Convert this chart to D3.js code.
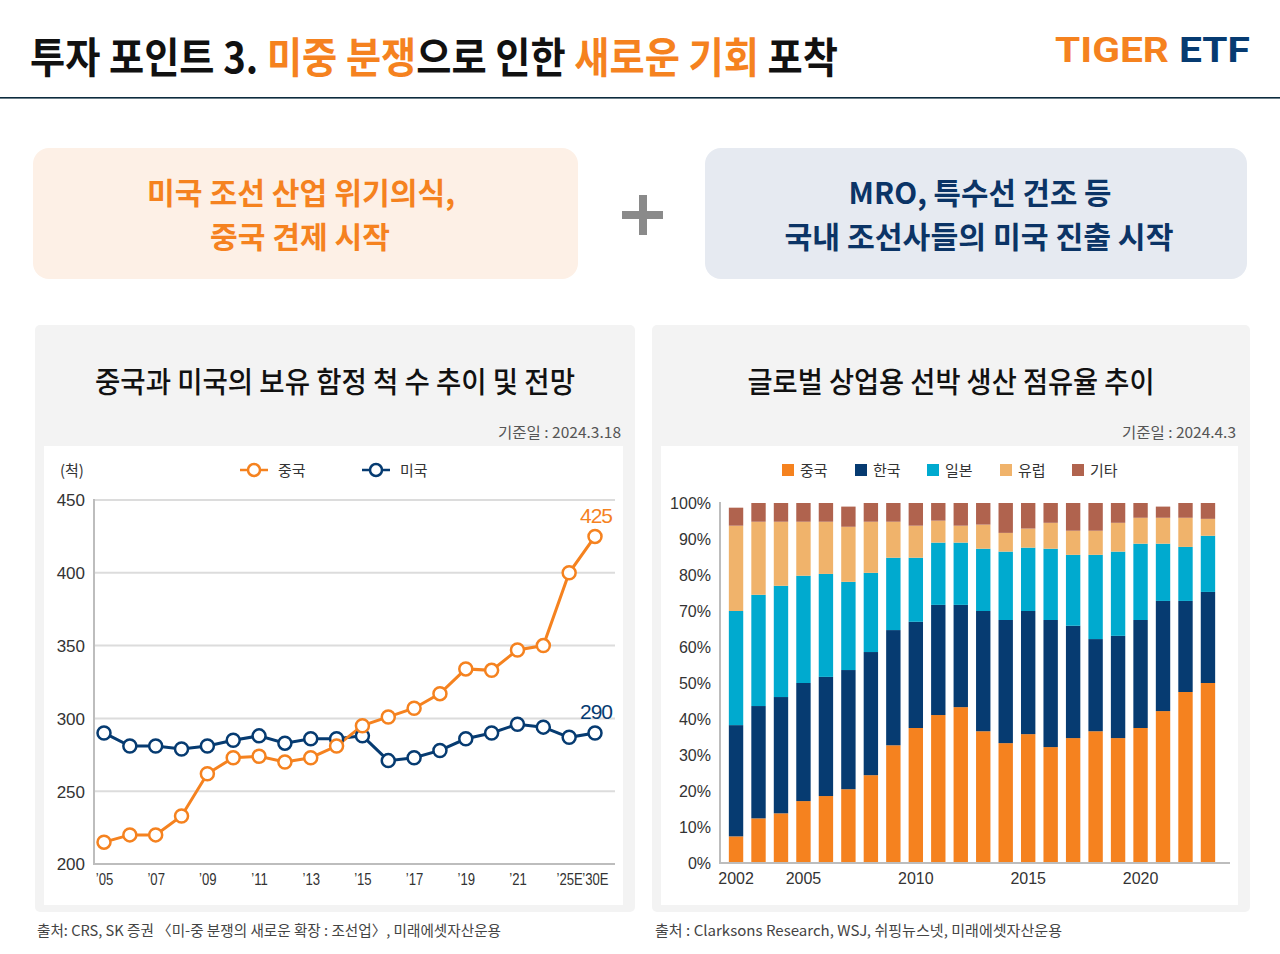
<!DOCTYPE html>
<html><head><meta charset="utf-8">
<script src="https://cdn.jsdelivr.net/npm/d3@7"></script>
<style>
html,body{margin:0;padding:0;background:#fff;}
svg{display:block;}
text{font-family:"Noto Sans CJK KR","Noto Sans",sans-serif;}
.num{font-family:"Liberation Sans",Arial,"Noto Sans CJK KR",sans-serif;}
</style></head>
<body>
<svg id="c" width="1280" height="954"></svg>
<script>
// ---------- data ----------
const lineYears = ["’05","’06","’07","’08","’09","’10","’11","’12","’13","’14","’15","’16","’17","’18","’19","’20","’21","’22","’25E","’30E"];
const lineTickLabels = ["’05","’07","’09","’11","’13","’15","’17","’19","’21","’25E","’30E"];
const chinaShips = [215,220,220,233,262,273,274,270,273,281,295,301,307,317,334,333,347,350,400,425];
const usShips    = [290,281,281,279,281,285,288,283,286,286,288,271,273,278,286,290,296,294,287,290];
const lineYTicks = [200,250,300,350,400,450];

const barYears = [2002,2003,2004,2005,2006,2007,2008,2009,2010,2011,2012,2013,2014,2015,2016,2017,2018,2019,2020,2021,2022,2023];
const barTickLabels = [2002,2005,2010,2015,2020];
const shareChina  = [7.4,12.4,13.8,17.2,18.6,20.5,24.4,32.7,37.5,41.1,43.3,36.6,33.3,35.8,32.2,34.7,36.6,34.7,37.5,42.2,47.5,50.0];
const shareKorea  = [30.9,31.2,32.3,32.8,33.1,33.1,34.2,32.0,29.5,30.6,28.4,33.4,34.2,34.2,35.3,31.2,25.6,28.4,30.0,30.6,25.3,25.3];
const shareJapan  = [31.7,30.9,30.9,29.8,28.6,24.5,22.0,20.1,17.8,17.3,17.3,17.3,19.0,17.6,19.8,19.7,23.4,23.4,21.2,15.9,15.0,15.6];
const shareEurope = [23.7,20.3,17.8,15.0,14.5,15.3,14.2,10.0,8.9,6.1,4.7,6.7,5.2,5.3,7.2,6.7,6.7,8.0,7.2,7.2,8.1,4.7];
const shareOther  = [5.0,5.2,5.2,5.2,5.2,5.6,5.2,5.2,6.3,4.9,6.3,6.0,8.3,7.1,5.5,7.7,7.7,5.5,4.1,3.1,4.1,4.4];
const barSeriesNames = ["중국","한국","일본","유럽","기타"];
const barYTicks = [0,10,20,30,40,50,60,70,80,90,100];

// ---------- style ----------
const ORANGE = "#f5821f", NAVY = "#063b71", CYAN = "#00aacf", LORANGE = "#f0b36b", BROWN = "#b0634e";
const barColors = [ORANGE, NAVY, CYAN, LORANGE, BROWN];

const svg = d3.select("#c");
function fit(sel, w){ sel.attr("textLength", w).attr("lengthAdjust","spacingAndGlyphs"); return sel; }
// horizontally scale a (multi-tspan) text so it spans width w starting at x
function squeeze(sel, x, y, w){
  sel.attr("x",0).attr("y",0);
  const nat = sel.node().getComputedTextLength();
  sel.attr("transform",`translate(${x},${y}) scale(${w/nat},1)`);
  return sel;
}

// ---------- header ----------
const title = svg.append("text").attr("font-size",42).attr("font-weight",700).attr("fill","#111");
title.append("tspan").text("투자 포인트 3. ");
title.append("tspan").attr("fill",ORANGE).text("미중 분쟁");
title.append("tspan").text("으로 인한 ");
title.append("tspan").attr("fill",ORANGE).text("새로운 기회");
title.append("tspan").text(" 포착");
squeeze(title, 30, 73, 808);

const logo = svg.append("text").attr("font-size",36).attr("font-weight",700)
  .style("font-family","Roboto, 'Liberation Sans', sans-serif");
logo.append("tspan").attr("fill",ORANGE).text("TIGER ");
logo.append("tspan").attr("fill",NAVY).text("ETF");
squeeze(logo, 1055, 62, 195);

svg.append("rect").attr("x",0).attr("y",97).attr("width",1280).attr("height",1.6).attr("fill","#0d2b3e");

// ---------- callouts ----------
svg.append("rect").attr("x",33).attr("y",148).attr("width",545).attr("height",131).attr("rx",16).attr("fill","#fdf0e6");
fit(svg.append("text").attr("x",301).attr("y",204).attr("text-anchor","middle").attr("font-size",30).attr("font-weight",700).attr("fill",ORANGE).text("미국 조선 산업 위기의식,"),308);
fit(svg.append("text").attr("x",300).attr("y",248).attr("text-anchor","middle").attr("font-size",30).attr("font-weight",700).attr("fill",ORANGE).text("중국 견제 시작"),180);

svg.append("rect").attr("x",622).attr("y",211).attr("width",41).attr("height",8).attr("fill","#8a8a8a");
svg.append("rect").attr("x",639).attr("y",195).attr("width",8).attr("height",40).attr("fill","#8a8a8a");

svg.append("rect").attr("x",705).attr("y",148).attr("width",542).attr("height",131).attr("rx",16).attr("fill","#e6eaf1");
fit(svg.append("text").attr("x",980).attr("y",204).attr("text-anchor","middle").attr("font-size",30).attr("font-weight",700).attr("fill","#0b3466").text("MRO, 특수선 건조 등"),263);
fit(svg.append("text").attr("x",979).attr("y",248).attr("text-anchor","middle").attr("font-size",30).attr("font-weight",700).attr("fill","#0b3466").text("국내 조선사들의 미국 진출 시작"),389);

// ---------- panels ----------
function panel(x, w, titleText, titleW, dateText, dateW){
  svg.append("rect").attr("x",x).attr("y",325).attr("width",w).attr("height",587).attr("rx",5).attr("fill","#f3f3f3");
  svg.append("rect").attr("x",x+9).attr("y",446).attr("width",w-21).attr("height",459).attr("fill","#fff");
  fit(svg.append("text").attr("x",x + w/2).attr("y",393).attr("text-anchor","middle").attr("font-size",29).attr("font-weight",500).attr("fill","#111").text(titleText), titleW);
  fit(svg.append("text").attr("x",x + w - 14 - dateW).attr("y",438).attr("font-size",15).attr("fill","#555").text(dateText), dateW);
}
panel(35, 600, "중국과 미국의 보유 함정 척 수 추이 및 전망", 480, "기준일 : 2024.3.18", 123);
panel(652, 598, "글로벌 상업용 선박 생산 점유율 추이", 407, "기준일 : 2024.4.3", 114);

// ---------- line chart ----------
const xL = d3.scalePoint().domain(lineYears).range([104, 595]);
const yL = d3.scaleLinear().domain([200, 450]).range([864, 500]);

const gL = svg.append("g");
gL.selectAll("line.grid").data(lineYTicks.slice(1)).join("line")
  .attr("x1",94).attr("x2",615).attr("y1",d=>yL(d)).attr("y2",d=>yL(d))
  .attr("stroke","#dcdcdc").attr("stroke-width",2);
gL.append("line").attr("x1",94).attr("x2",94).attr("y1",499).attr("y2",865).attr("stroke","#bdbdbd").attr("stroke-width",2);
gL.append("line").attr("x1",93).attr("x2",615).attr("y1",864).attr("y2",864).attr("stroke","#bdbdbd").attr("stroke-width",2);

const axL = d3.axisLeft(yL).tickValues(lineYTicks).tickSize(0).tickPadding(9);
const axLg = gL.append("g").attr("transform","translate(94,0)").call(axL);
axLg.select(".domain").remove();
axLg.selectAll("text").attr("class","num").attr("font-size",17).attr("fill","#333").attr("dy","0.35em");

const axB = d3.axisBottom(xL).tickValues(lineTickLabels).tickSize(0).tickPadding(10);
const axBg = gL.append("g").attr("transform","translate(0,864)").call(axB);
axBg.select(".domain").remove();
axBg.selectAll("text").attr("class","num").attr("font-size",16).attr("fill","#333")
  .attr("transform","scale(0.82,1)");

const lineGen = d3.line().x((d,i)=>xL(lineYears[i])).y(d=>yL(d));
[[usShips, NAVY],[chinaShips, ORANGE]].forEach(([arr,col])=>{
  gL.append("path").datum(arr).attr("d",lineGen).attr("fill","none").attr("stroke",col).attr("stroke-width",3);
});
[[usShips, NAVY],[chinaShips, ORANGE]].forEach(([arr,col])=>{
  gL.selectAll(null).data(arr).join("circle")
    .attr("cx",(d,i)=>xL(lineYears[i])).attr("cy",d=>yL(d)).attr("r",6.5)
    .attr("fill","#fff").attr("stroke",col).attr("stroke-width",2.5);
});
gL.append("text").attr("class","num").attr("x",xL("’30E")+1).attr("y",yL(chinaShips[19])-13).attr("text-anchor","middle")
  .attr("font-size",21).attr("fill",ORANGE).attr("letter-spacing",-1).text(chinaShips[19]);
gL.append("text").attr("class","num").attr("x",xL("’30E")+1).attr("y",yL(usShips[19])-14).attr("text-anchor","middle")
  .attr("font-size",21).attr("fill",NAVY).attr("letter-spacing",-1).text(usShips[19]);

// legend / unit
svg.append("text").attr("x",60).attr("y",476).attr("font-size",15).attr("fill","#333").text("(척)");
[[240,ORANGE,"중국"],[362,NAVY,"미국"]].forEach(([x,col,t])=>{
  svg.append("line").attr("x1",x).attr("x2",x+28).attr("y1",470).attr("y2",470).attr("stroke",col).attr("stroke-width",2.5);
  svg.append("circle").attr("cx",x+14).attr("cy",470).attr("r",6).attr("fill","#fff").attr("stroke",col).attr("stroke-width",2.5);
  svg.append("text").attr("x",x+38).attr("y",476).attr("font-size",15).attr("fill","#333").text(t);
});

// ---------- bar chart ----------
const xB = d3.scaleBand().domain(barYears).range([724.8, 1219.2]).paddingInner(0.36).paddingOuter(0.18);
const yB = d3.scaleLinear().domain([0,100]).range([863, 503]);
const rows = barYears.map((y,i)=>({year:y, "중국":shareChina[i], "한국":shareKorea[i], "일본":shareJapan[i], "유럽":shareEurope[i], "기타":shareOther[i]}));
const stacked = d3.stack().keys(barSeriesNames)(rows);
const gB = svg.append("g");
gB.selectAll("g.s").data(stacked).join("g").attr("fill",(d,i)=>barColors[i])
  .selectAll("rect").data(d=>d).join("rect")
  .attr("x",d=>xB(d.data.year)).attr("width",xB.bandwidth())
  .attr("y",d=>yB(d[1])).attr("height",d=>yB(d[0])-yB(d[1]));

gB.append("line").attr("x1",720).attr("x2",720).attr("y1",502).attr("y2",864).attr("stroke","#bdbdbd").attr("stroke-width",2);
gB.append("line").attr("x1",719).attr("x2",1230).attr("y1",863).attr("y2",863).attr("stroke","#bdbdbd").attr("stroke-width",2);

const axBY = gB.append("g").attr("transform","translate(720,0)")
  .call(d3.axisLeft(yB).tickValues(barYTicks).tickFormat(d=>d+"%").tickSize(0).tickPadding(9));
axBY.select(".domain").remove();
axBY.selectAll("text").attr("class","num").attr("font-size",16).attr("fill","#333").attr("dy","0.35em");

const axBX = gB.append("g").attr("transform","translate(0,863)")
  .call(d3.axisBottom(xB).tickValues(barTickLabels).tickSize(0).tickPadding(10));
axBX.select(".domain").remove();
axBX.selectAll("text").attr("class","num").attr("font-size",16).attr("fill","#333");

const legX = [782,855,927,1000,1072];
barSeriesNames.forEach((n,i)=>{
  svg.append("rect").attr("x",legX[i]).attr("y",464).attr("width",12).attr("height",12).attr("fill",barColors[i]);
  svg.append("text").attr("x",legX[i]+18).attr("y",476).attr("font-size",15).attr("fill","#333").text(n);
});

// ---------- footnotes ----------
fit(svg.append("text").attr("x",37).attr("y",936).attr("font-size",14.5).attr("fill","#444").text("출처: CRS, SK 증권 〈미-중 분쟁의 새로운 확장 : 조선업〉, 미래에셋자산운용"),464);
fit(svg.append("text").attr("x",655).attr("y",936).attr("font-size",14.5).attr("fill","#444").text("출처 : Clarksons Research, WSJ, 쉬핑뉴스넷, 미래에셋자산운용"),407);
</script>
</body></html>
